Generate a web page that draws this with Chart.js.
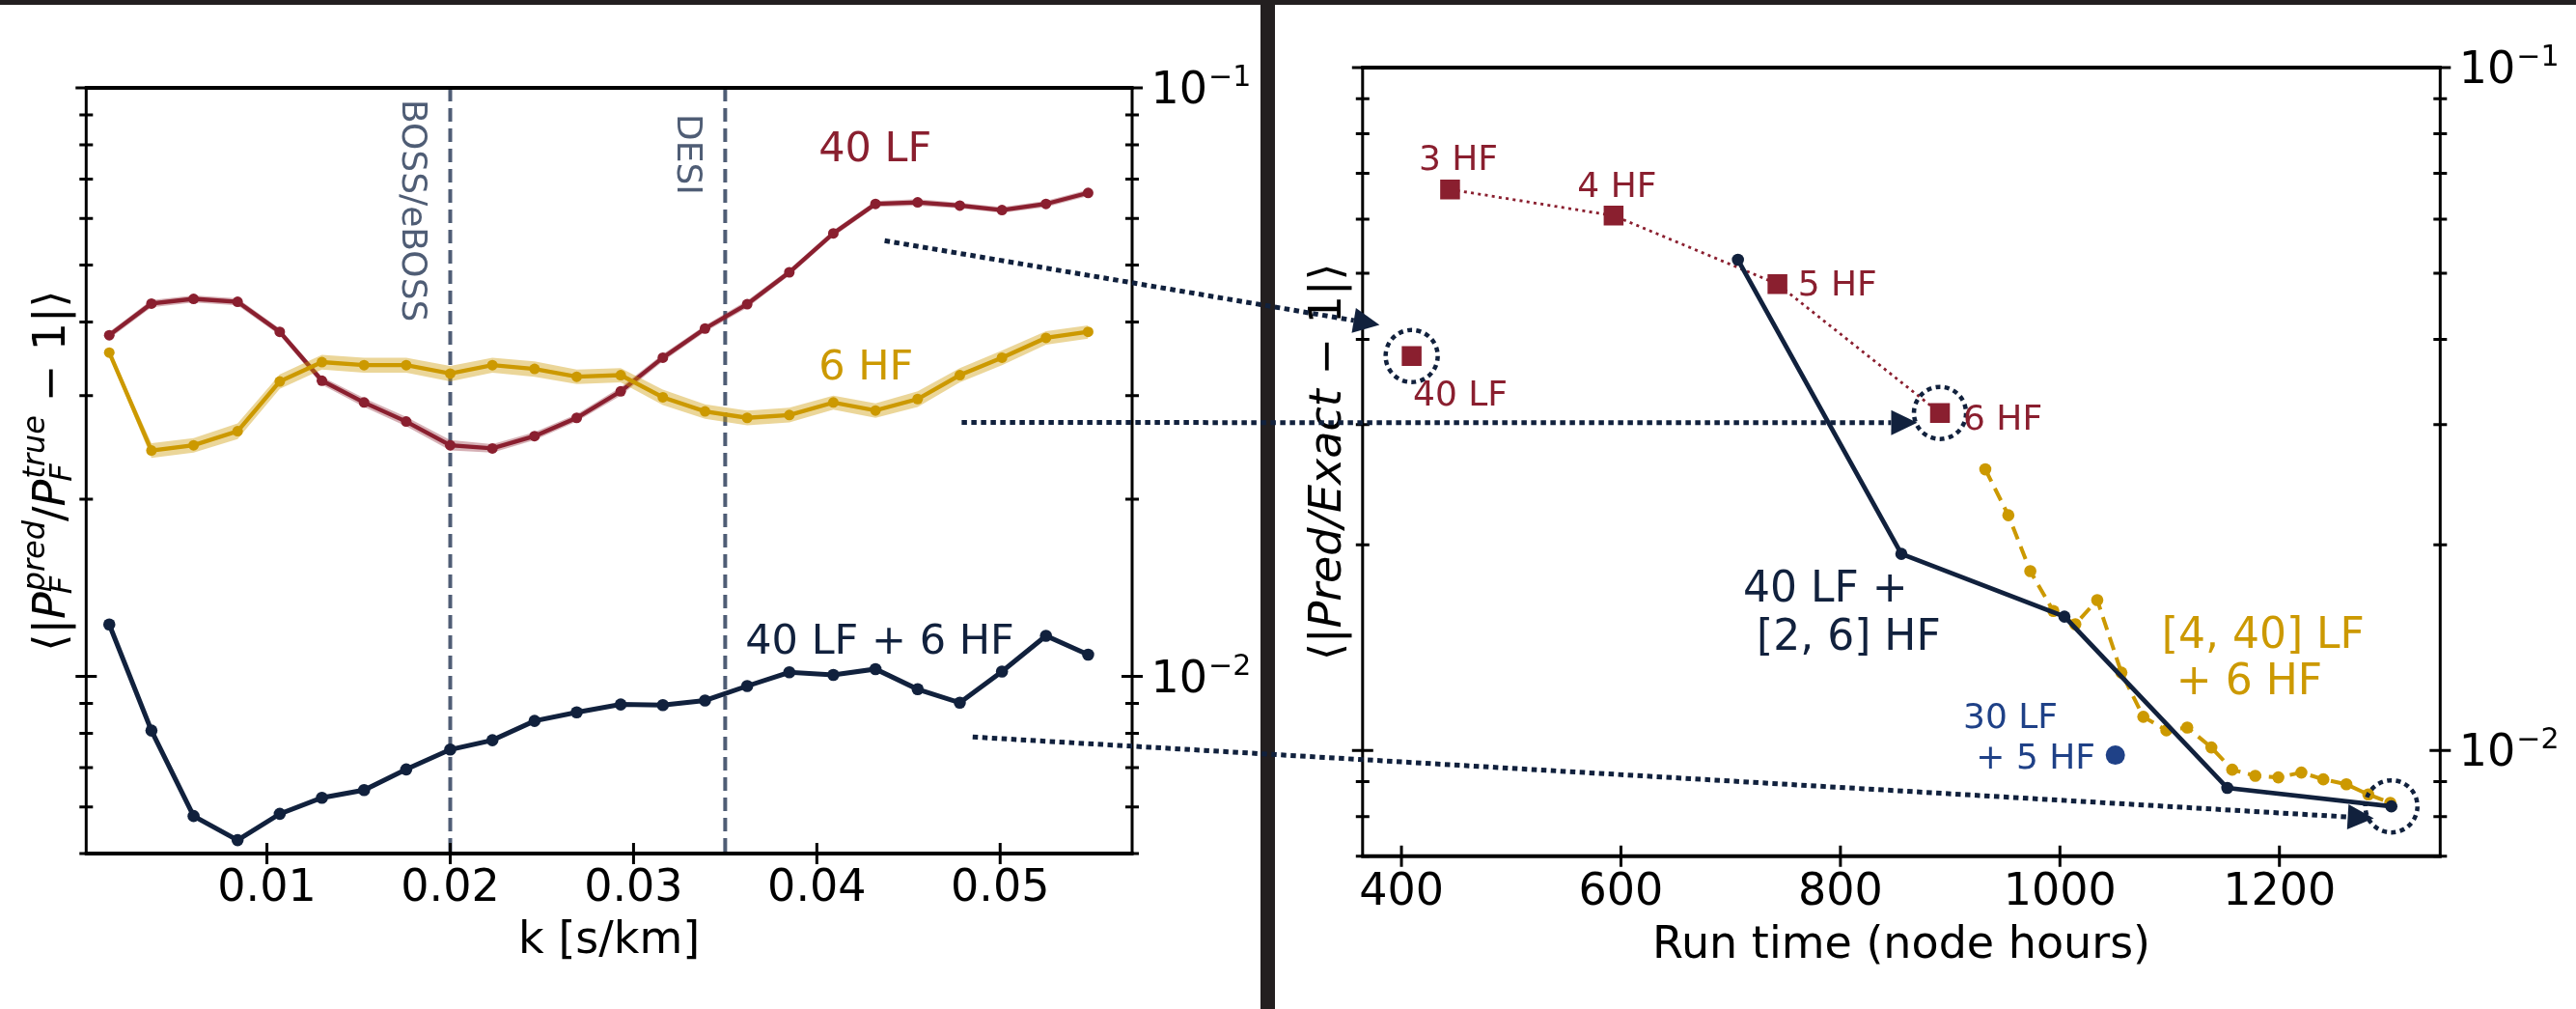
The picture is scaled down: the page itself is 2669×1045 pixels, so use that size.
<!DOCTYPE html>
<html lang="en">
<head>
<meta charset="utf-8">
<title>Emulator error by k bin and by run time</title>
<script src="https://cdn.jsdelivr.net/npm/chart.js@4.4.1/dist/chart.umd.min.js"></script>
<style>
  html, body { margin: 0; padding: 0; background: #fff; }
  #figure { position: relative; width: 2669px; height: 1045px; overflow: hidden; background: #fff; }
  #figure canvas { position: absolute; top: 0; }
  #kChart { left: 0; }
  #costChart { left: 1321px; }
  #arrows { left: 0; pointer-events: none; }
  .bar { position: absolute; background: #231f20; }
</style>
</head>
<body>
<div id="figure">
  <canvas id="kChart" width="1306" height="1045"></canvas>
  <canvas id="costChart" width="1348" height="1045"></canvas>
  <div class="bar" style="left:1306px;top:0;width:15px;height:1045px"></div>
  <div class="bar" style="left:0;top:0;width:2669px;height:5px"></div>
  <canvas id="arrows" width="2669" height="1045"></canvas>
</div>
<script>
Chart.defaults.font.family = '"DejaVu Sans", sans-serif';
Chart.defaults.color = '#000';

const RED = '#8a1f2f';
const GOLD = '#cc9900';
const NAVY = '#11213d';
const BLUE = '#1f4187';
const SLATE = '#4f5d75';
const FONT = '"DejaVu Sans", sans-serif';

// left panel: mean relative error in each k bin
const kBins = [0.0014, 0.0037, 0.0060, 0.0084, 0.0107, 0.0130, 0.0153, 0.0176, 0.0200, 0.0223, 0.0246, 0.0269,
               0.0293, 0.0316, 0.0339, 0.0362, 0.0385, 0.0409, 0.0432, 0.0455, 0.0478, 0.0501, 0.0525, 0.0548];
const lf40 = [0.0380, 0.0430, 0.0438, 0.0433, 0.0385, 0.0318, 0.0292, 0.0271, 0.0247, 0.0244, 0.0256, 0.0275,
              0.0305, 0.0348, 0.0390, 0.0429, 0.0486, 0.0566, 0.0635, 0.0639, 0.0631, 0.0620, 0.0635, 0.0663];
const lf40Spread = [0.0005, 0.0006, 0.0006, 0.0006, 0.0005, 0.0005, 0.0005, 0.0005, 0.0005, 0.0004, 0.0004, 0.0004,
                    0.0005, 0.0005, 0.0005, 0.0006, 0.0006, 0.0007, 0.0007, 0.0008, 0.0007, 0.0007, 0.0008, 0.0008];
const hf6 = [0.0355, 0.0242, 0.0247, 0.0261, 0.0317, 0.0342, 0.0338, 0.0338, 0.0327, 0.0338, 0.0333, 0.0323,
             0.0325, 0.0298, 0.0282, 0.0275, 0.0278, 0.0292, 0.0283, 0.0296, 0.0325, 0.0348, 0.0376, 0.0385];
const hf6Spread = [0.0004, 0.0007, 0.0007, 0.0008, 0.0009, 0.0010, 0.0010, 0.0010, 0.0010, 0.0010, 0.0010, 0.0009,
                   0.0009, 0.0009, 0.0008, 0.0008, 0.0008, 0.0008, 0.0008, 0.0009, 0.0009, 0.0010, 0.0010, 0.0010];
const mf40x6 = [0.01225, 0.00809, 0.00579, 0.00527, 0.00584, 0.00622, 0.00641, 0.00695, 0.00751, 0.00779, 0.00840, 0.00869,
                0.00896, 0.00894, 0.00910, 0.00963, 0.01016, 0.01006, 0.01029, 0.00951, 0.00902, 0.01019, 0.01172, 0.01089];
const kTicks = [0.01, 0.02, 0.03, 0.04, 0.05];
const surveyK = [0.02, 0.035];
const surveyNames = ['BOSS/eBOSS', 'DESI'];
const surveyLabelAt = [0.0956, 0.0903];

// right panel: mean error against cost of the training runs
const hfRuns = [444.3, 593.3, 742.6, 890.7];
const hfErr = [0.0663, 0.0607, 0.0482, 0.0312];
const lfRun = [409.3];
const lfErr = [0.0378];
const mfRuns = [706.6, 855.5, 1004.1, 1152.5, 1302.0];
const mfErr = [0.0523, 0.0194, 0.0157, 0.00881, 0.00828];
const lfScanRuns = [932, 953, 973, 994, 1014, 1034, 1056, 1076, 1097, 1116, 1138, 1157, 1178, 1199, 1220, 1240, 1261, 1281, 1301];
const lfScanErr = [0.0258, 0.0221, 0.0183, 0.0160, 0.0153, 0.0166, 0.0130, 0.0112, 0.0107, 0.0108, 0.0101, 0.00937,
                   0.00918, 0.00913, 0.00928, 0.00907, 0.00892, 0.00862, 0.00838];
const altRun = [1050.5];
const altErr = [0.00984];
const runTicks = [400, 600, 800, 1000, 1200];

// arrows linking the k-panel curves to their points on the cost panel
const arrowFromK = [0.0437, 0.0479, 0.0485];
const arrowFromErr = [0.0550, 0.0270, 0.00789];
const arrowToRun = [380, 870, 1286];
const arrowToErr = [0.0420, 0.0302, 0.00795];

const pts = (xs, ys) => xs.map((x, i) => ({ x, y: ys[i] }));

const isDecade = v => Math.abs(Math.log10(v) - Math.round(Math.log10(v))) < 1e-6;

function logTicks(min, max) {
  const out = [];
  for (let e = -3; e <= -1; e++) {
    for (let m = 1; m <= 9; m++) {
      const v = m * Math.pow(10, e);
      if (v >= min * 0.999 && v <= max * 1.001) out.push(v);
    }
  }
  return out;
}

// rotated y title with italic symbols and stacked super/subscripts
function mathLabel(ctx, parts, cx, cy, size) {
  const small = Math.round(size * 0.7);
  const fontOf = (it, s) => (it ? 'italic ' : '') + s + 'px ' + FONT;
  const widths = parts.map(p => {
    ctx.font = fontOf(p.it, size);
    let w = ctx.measureText(p.t).width;
    if (p.sup || p.sub) {
      ctx.font = fontOf(true, small);
      w += Math.max(p.sup ? ctx.measureText(p.sup).width : 0, p.sub ? ctx.measureText(p.sub).width : 0);
    }
    return w;
  });
  const total = widths.reduce((a, b) => a + b, 0);
  ctx.save();
  ctx.translate(cx, cy);
  ctx.rotate(-Math.PI / 2);
  ctx.fillStyle = '#000';
  ctx.textAlign = 'left';
  ctx.textBaseline = 'alphabetic';
  let x = -total / 2;
  parts.forEach((p, i) => {
    ctx.font = fontOf(p.it, size);
    ctx.fillText(p.t, x, 0);
    const bw = ctx.measureText(p.t).width;
    ctx.font = fontOf(true, small);
    if (p.sup) ctx.fillText(p.sup, x + bw + 1, -size * 0.45);
    if (p.sub) ctx.fillText(p.sub, x + bw - 2, size * 0.16);
    x += widths[i];
  });
  ctx.restore();
}

const framePlugin = {
  id: 'frame',
  afterDraw(chart, args, o) {
    const { ctx, chartArea: a, scales: { x, y } } = chart;
    const yt = logTicks(y.min, y.max);
    ctx.save();
    ctx.strokeStyle = '#000';
    ctx.lineWidth = 3;
    ctx.beginPath();
    yt.forEach(v => {
      const py = y.getPixelForValue(v);
      const len = isDecade(v) ? 11 : 7;
      ctx.moveTo(a.left - len, py); ctx.lineTo(a.left + len, py);
      ctx.moveTo(a.right - len, py); ctx.lineTo(a.right + len, py);
    });
    o.xTicks.forEach(v => {
      const px = x.getPixelForValue(v);
      ctx.moveTo(px, a.bottom - 11); ctx.lineTo(px, a.bottom + 11);
    });
    ctx.moveTo(a.left, a.top); ctx.lineTo(a.left, a.bottom);
    ctx.moveTo(a.right, a.top); ctx.lineTo(a.right, a.bottom);
    ctx.stroke();
    ctx.lineWidth = 4;
    ctx.beginPath();
    ctx.moveTo(a.left - 1.5, a.top); ctx.lineTo(a.right + 1.5, a.top);
    ctx.moveTo(a.left - 1.5, a.bottom); ctx.lineTo(a.right + 1.5, a.bottom);
    ctx.stroke();

    // decade labels sit on the right-hand spine
    ctx.fillStyle = '#000';
    ctx.textAlign = 'left';
    ctx.textBaseline = 'alphabetic';
    yt.filter(isDecade).forEach(v => {
      const py = y.getPixelForValue(v);
      const lx = a.right + 19.5;
      ctx.font = '46px ' + FONT;
      ctx.fillText('10', lx, py + 16);
      const w = ctx.measureText('10').width;
      ctx.font = '30px ' + FONT;
      ctx.fillText('\u2212' + (-Math.round(Math.log10(v))), lx + w + 1, py - 2);
    });
    mathLabel(ctx, o.yTitle, o.yTitleX, (a.top + a.bottom) / 2, 46);
    ctx.restore();
  }
};

const notesPlugin = {
  id: 'notes',
  beforeDatasetsDraw(chart, args, o) {
    if (!o.surveys) return;
    const { ctx, chartArea: a, scales: { x, y } } = chart;
    ctx.save();
    o.surveys.forEach(s => {
      const px = x.getPixelForValue(s.k);
      ctx.strokeStyle = SLATE;
      ctx.lineWidth = 4;
      ctx.setLineDash([14, 7]);
      ctx.beginPath();
      ctx.moveTo(px, a.top); ctx.lineTo(px, a.bottom);
      ctx.stroke();
      ctx.save();
      ctx.translate(px - 49, y.getPixelForValue(s.at));
      ctx.rotate(Math.PI / 2);
      ctx.font = '36px ' + FONT;
      ctx.fillStyle = SLATE;
      ctx.textAlign = 'left';
      ctx.textBaseline = 'alphabetic';
      ctx.fillText(s.name, 0, 0);
      ctx.restore();
    });
    ctx.restore();
  },
  afterDatasetsDraw(chart, args, o) {
    const { ctx, scales: { x, y } } = chart;
    ctx.save();
    (o.rings || []).forEach(r => {
      ctx.strokeStyle = NAVY;
      ctx.lineWidth = 4.5;
      ctx.setLineDash([5, 4.4]);
      ctx.beginPath();
      ctx.arc(x.getPixelForValue(r.x), y.getPixelForValue(r.y), 27, 0, Math.PI * 2);
      ctx.stroke();
    });
    ctx.setLineDash([]);
    ctx.textAlign = 'left';
    ctx.textBaseline = 'alphabetic';
    (o.labels || []).forEach(n => {
      ctx.font = n.size + 'px ' + FONT;
      ctx.fillStyle = n.color;
      ctx.fillText(n.text, x.getPixelForValue(n.x), y.getPixelForValue(n.y));
    });
    ctx.restore();
  }
};

function lineSet(data, color, extra) {
  return Object.assign({
    data, borderColor: color, backgroundColor: color, pointBackgroundColor: color,
    pointBorderWidth: 0, pointRadius: 5.5, borderWidth: 4.3, tension: 0, fill: false
  }, extra);
}

function bandSet(xs, ys, spread, sign, color, order) {
  return {
    data: xs.map((x, i) => ({ x, y: ys[i] + sign * spread[i] })),
    borderWidth: 0, pointRadius: 0, backgroundColor: color,
    fill: sign > 0 ? '+1' : false, order
  };
}

function baseOptions(cfg) {
  return {
    responsive: false,
    animation: false,
    events: [],
    layout: { padding: cfg.padding },
    plugins: {
      legend: { display: false },
      tooltip: { enabled: false },
      frame: { xTicks: cfg.xTicks, yTitle: cfg.yTitle, yTitleX: cfg.yTitleX },
      notes: cfg.notes
    },
    scales: {
      x: {
        type: 'linear', min: cfg.xMin, max: cfg.xMax,
        grid: { display: false, drawTicks: false },
        border: { display: false },
        afterBuildTicks: s => { s.ticks = cfg.xTicks.map(v => ({ value: v })); },
        afterFit: s => { s.height = cfg.axisHeight; },
        ticks: { autoSkip: false, maxRotation: 0, padding: cfg.tickPad, color: '#000', font: { size: 46 }, callback: cfg.fmt },
        title: { display: true, text: cfg.xTitle, color: '#000', font: { size: 46 }, padding: { top: 0, bottom: cfg.titlePad } }
      },
      y: { type: 'logarithmic', min: cfg.yMin, max: cfg.yMax, display: false }
    }
  };
}

const kChart = new Chart(document.getElementById('kChart'), {
  type: 'line',
  data: {
    datasets: [
      bandSet(kBins, lf40, lf40Spread, 1, 'rgba(138,31,47,0.35)', 6),
      bandSet(kBins, lf40, lf40Spread, -1, 'rgba(138,31,47,0.35)', 6),
      lineSet(pts(kBins, lf40), RED, { order: 5 }),
      bandSet(kBins, hf6, hf6Spread, 1, 'rgba(204,153,0,0.40)', 4),
      bandSet(kBins, hf6, hf6Spread, -1, 'rgba(204,153,0,0.40)', 4),
      lineSet(pts(kBins, hf6), GOLD, { order: 3 }),
      lineSet(pts(kBins, mf40x6), NAVY, { order: 1, borderWidth: 5, pointRadius: 6.3 })
    ]
  },
  options: baseOptions({
    padding: { left: 89.3, right: 133, top: 91, bottom: 0 },
    xMin: 0.00014, xMax: 0.0572, xTicks: kTicks, fmt: v => v.toFixed(2),
    axisHeight: 161, tickPad: 9, titlePad: 42, xTitle: 'k [s/km]',
    yMin: 0.005, yMax: 0.1, yTitleX: 67,
    yTitle: [
      { t: '\u27E8|' },
      { t: 'P', it: true, sub: 'F', sup: 'pred' },
      { t: '/' },
      { t: 'P', it: true, sub: 'F', sup: 'true' },
      { t: ' \u2212 1|\u27E9' }
    ],
    notes: {
      surveys: surveyK.map((k, i) => ({ k, name: surveyNames[i], at: surveyLabelAt[i] })),
      labels: [
        { text: '40 LF', x: 0.0401, y: 0.0750, color: RED, size: 43 },
        { text: '6 HF', x: 0.0401, y: 0.0320, color: GOLD, size: 43 },
        { text: '40 LF + 6 HF', x: 0.0361, y: 0.01094, color: NAVY, size: 43 }
      ]
    }
  }),
  plugins: [framePlugin, notesPlugin]
});

const costChart = new Chart(document.getElementById('costChart'), {
  type: 'line',
  data: {
    datasets: [
      lineSet(pts(hfRuns, hfErr), RED, { order: 4, borderWidth: 2.8, borderDash: [3, 4.3], pointStyle: 'rect', pointRadius: 14.5 }),
      lineSet(pts(lfRun, lfErr), RED, { order: 4, showLine: false, pointStyle: 'rect', pointRadius: 14.5 }),
      lineSet(pts(lfScanRuns, lfScanErr), GOLD, { order: 3, borderWidth: 4, borderDash: [14, 8], pointRadius: 6.3 }),
      lineSet(pts(mfRuns, mfErr), NAVY, { order: 2, borderWidth: 4.8, pointRadius: 6.3 }),
      lineSet(pts(altRun, altErr), BLUE, { order: 1, showLine: false, pointRadius: 10 })
    ]
  },
  options: baseOptions({
    padding: { left: 90.8, right: 140.7, top: 70, bottom: 0 },
    xMin: 364.6, xMax: 1346.5, xTicks: runTicks, fmt: v => String(v),
    axisHeight: 158.3, tickPad: 10.7, titlePad: 37.4, xTitle: 'Run time (node hours)',
    yMin: 0.007, yMax: 0.1, yTitleX: 68,
    yTitle: [
      { t: '\u27E8|' },
      { t: 'Pred/Exact', it: true },
      { t: ' \u2212 1|\u27E9' }
    ],
    notes: {
      rings: [
        { x: lfRun[0], y: lfErr[0] },
        { x: hfRuns[3], y: hfErr[3] },
        { x: mfRuns[4], y: mfErr[4] }
      ],
      labels: [
        { text: '3 HF', x: 415.7, y: 0.0707, color: RED, size: 36 },
        { text: '4 HF', x: 560.3, y: 0.0647, color: RED, size: 36 },
        { text: '5 HF', x: 761.1, y: 0.0464, color: RED, size: 36 },
        { text: '6 HF', x: 911.8, y: 0.0295, color: RED, size: 36 },
        { text: '40 LF', x: 410.5, y: 0.0320, color: RED, size: 36 },
        { text: '40 LF +', x: 711.3, y: 0.01652, color: NAVY, size: 44 },
        { text: '[2, 6] HF', x: 723.6, y: 0.01404, color: NAVY, size: 44 },
        { text: '[4, 40] LF', x: 1092.8, y: 0.01412, color: GOLD, size: 44 },
        { text: '+ 6 HF', x: 1106.0, y: 0.01207, color: GOLD, size: 44 },
        { text: '30 LF', x: 911.8, y: 0.01077, color: BLUE, size: 36 },
        { text: '+ 5 HF', x: 923.5, y: 0.00940, color: BLUE, size: 36 }
      ]
    }
  }),
  plugins: [framePlugin, notesPlugin]
});

// dotted arrows drawn across both panels on a page-wide canvas
function drawArrows() {
  const overlay = document.getElementById('arrows');
  const ctx = overlay.getContext('2d');
  const leftX = kChart.canvas.offsetLeft;
  const rightX = costChart.canvas.offsetLeft;
  ctx.strokeStyle = NAVY;
  ctx.fillStyle = NAVY;
  arrowFromK.forEach((k, i) => {
    const x0 = leftX + kChart.scales.x.getPixelForValue(k);
    const y0 = kChart.scales.y.getPixelForValue(arrowFromErr[i]);
    const x1 = rightX + costChart.scales.x.getPixelForValue(arrowToRun[i]);
    const y1 = costChart.scales.y.getPixelForValue(arrowToErr[i]);
    const ang = Math.atan2(y1 - y0, x1 - x0);
    const head = 27, half = 13;
    const bx = x1 - head * Math.cos(ang), by = y1 - head * Math.sin(ang);
    ctx.lineWidth = 5;
    ctx.setLineDash([5.5, 4.5]);
    ctx.beginPath();
    ctx.moveTo(x0, y0);
    ctx.lineTo(bx, by);
    ctx.stroke();
    ctx.setLineDash([]);
    ctx.beginPath();
    ctx.moveTo(x1, y1);
    ctx.lineTo(bx - half * Math.sin(ang), by + half * Math.cos(ang));
    ctx.lineTo(bx + half * Math.sin(ang), by - half * Math.cos(ang));
    ctx.closePath();
    ctx.fill();
  });
}
drawArrows();
</script>
</body>
</html>
